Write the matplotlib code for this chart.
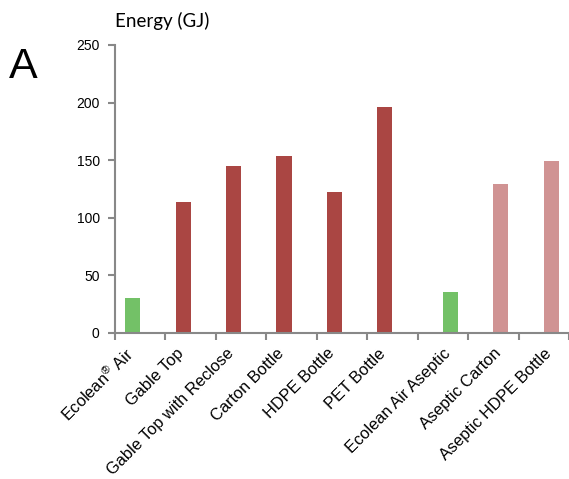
import matplotlib
matplotlib.use("Agg")
import matplotlib.pyplot as plt
import matplotlib.transforms as mtransforms
import numpy as np

plt.rcParams['font.family'] = ['Liberation Sans', 'DejaVu Sans']
plt.rcParams['mathtext.fontset'] = 'custom'
plt.rcParams['mathtext.rm'] = 'Liberation Sans'
plt.rcParams['mathtext.it'] = 'Liberation Sans'

categories = [r"Ecolean$^{®}$ Air", "Gable Top", "Gable Top with Reclose", "Carton Bottle",
              "HDPE Bottle", "PET Bottle", "Ecolean Air Aseptic", "Aseptic Carton",
              "Aseptic HDPE Bottle"]
non_aseptic = [30, 114, 145, 154, 122, 196, 0, 0, 0]
aseptic = [0, 0, 0, 0, 0, 0, 36, 129, 149]
colors_bar = ["#73C167", "#AA4643", "#AA4643", "#AA4643", "#AA4643", "#AA4643",
              "#73C167", "#D09393", "#D09393"]
yticks = [0, 50, 100, 150, 200, 250]

fig = plt.figure(figsize=(5.69, 4.79), dpi=100)
ax = fig.add_axes([115/569, 146/479, 454/569, 288/479])

x = np.arange(len(categories))
w = 0.30
ax.bar(x - w/2, non_aseptic, width=w, color=colors_bar, zorder=2)
ax.bar(x + w/2, aseptic, width=w, color=colors_bar, zorder=2)

ax.set_xlim(-0.5, len(categories) - 0.5)
ax.set_ylim(0, 250)
ax.set_yticks(yticks)
ax.set_yticklabels([str(v) for v in yticks], fontsize=10)

# label positions follow the bar of the series that carries the value
label_pos = [xi - w/2 if a > 0 else xi + w/2 for xi, a in zip(x, non_aseptic)]
ax.set_xticks(np.arange(len(categories) + 1) - 0.5, minor=False)
ax.set_xticklabels([])
ax.set_xticks(label_pos, minor=True)
ax.set_xticklabels(categories, minor=True, rotation=45, ha='right', va='center',
                   rotation_mode='anchor', fontsize=11.8)
ax.tick_params(axis='x', which='minor', length=0, pad=13)
ax.tick_params(axis='x', which='major', length=5, width=1.5, color='#888888', direction='out')
ax.tick_params(axis='y', length=5, width=1.5, color='#888888', direction='out', pad=6)
off = mtransforms.ScaledTranslation(-2/100, 0, fig.dpi_scale_trans)
for lab in ax.get_xticklabels(minor=True):
    lab.set_transform(lab.get_transform() + off)

for s in ['top', 'right']:
    ax.spines[s].set_visible(False)
for s in ['left', 'bottom']:
    ax.spines[s].set_color('#888888')
    ax.spines[s].set_linewidth(1.5)

fig.text(115/569, 1 - 27/479, "Energy (GJ)", fontsize=13.5, family=['Lato', 'DejaVu Sans'],
         ha='left', va='baseline')
fig.text(9/569, 1 - 78/479, "A", fontsize=31, ha='left', va='baseline')

fig.savefig("out.png", dpi=100)
